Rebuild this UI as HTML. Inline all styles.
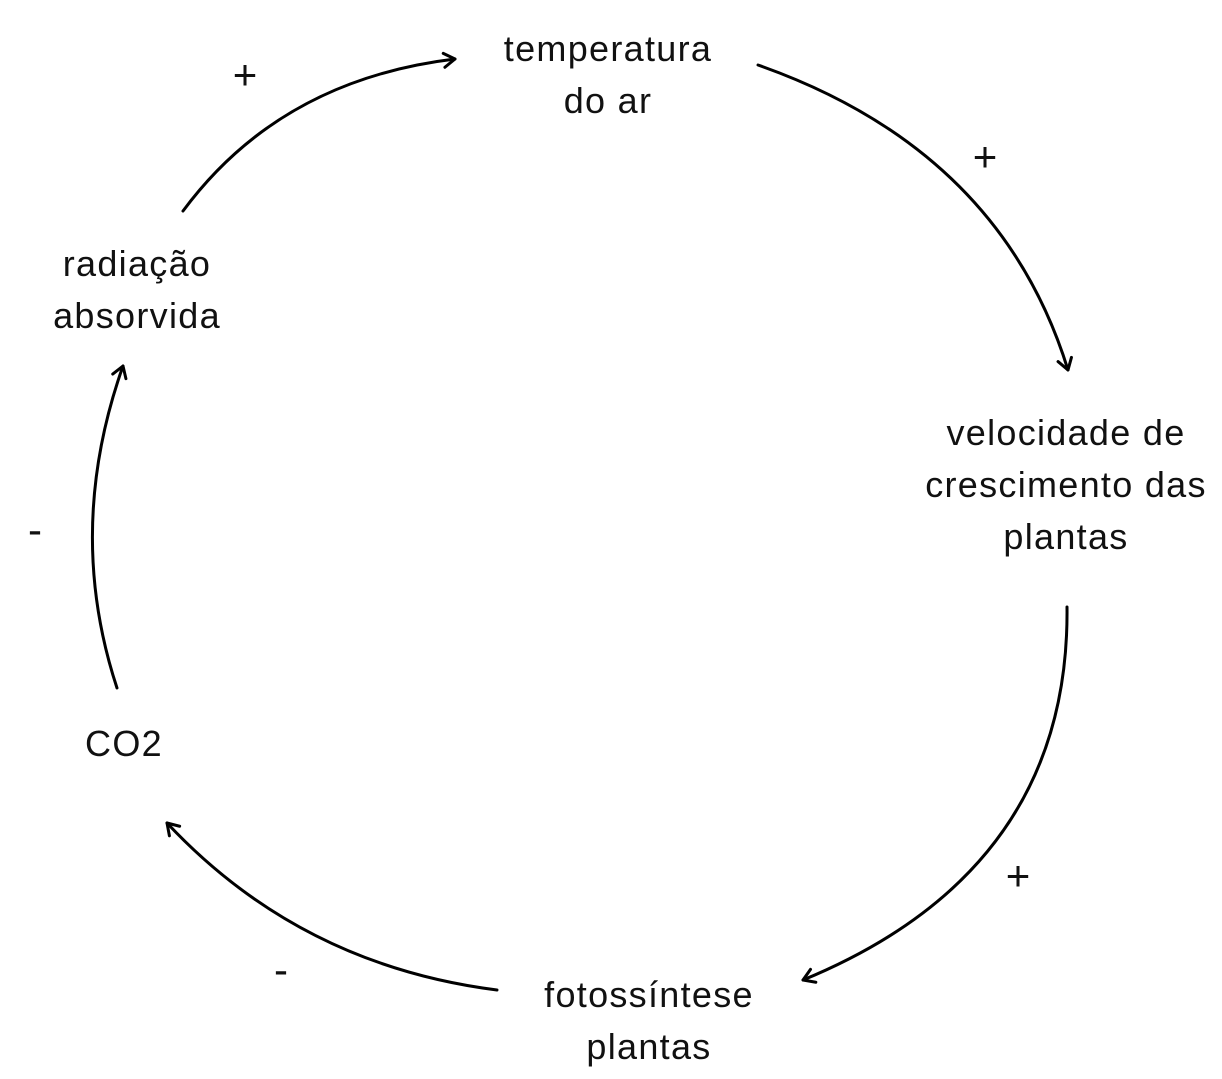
<!DOCTYPE html>
<html><head><meta charset="utf-8"><style>
html,body{margin:0;padding:0;background:#fff;}
svg{display:block;}
text{font-family:"Liberation Sans",sans-serif;font-size:36px;letter-spacing:1.3px;fill:#111;text-anchor:middle;}
.s{font-size:42px;letter-spacing:0;}
path.a{fill:none;stroke:#000;stroke-width:3;stroke-linecap:round;}
</style></head><body>
<svg width="1222" height="1079" viewBox="0 0 1222 1079">
<defs>
<marker id="ah" viewBox="0 0 20 20" refX="17" refY="10" markerWidth="20" markerHeight="20" markerUnits="userSpaceOnUse" orient="auto">
<path d="M6,3 L17,10 L6,17" fill="none" stroke="#000" stroke-width="3" stroke-linecap="round" stroke-linejoin="round"/>
</marker>
</defs>
<g><text x="608" y="61">temperatura</text><text x="608" y="113">do ar</text></g>
<g><text x="1066" y="445">velocidade de</text><text x="1066" y="497">crescimento das</text><text x="1066" y="549">plantas</text></g>
<g><text x="649" y="1007">fotossíntese</text><text x="649" y="1059">plantas</text></g>
<g><text x="124" y="756">CO2</text></g>
<g><text x="137" y="276">radiação</text><text x="137" y="328">absorvida</text></g>
<path class="a" d="M183,211 Q280,80 455,59" marker-end="url(#ah)"/>
<path class="a" d="M758,65 Q1000,150 1068,370" marker-end="url(#ah)"/>
<path class="a" d="M1067,607 Q1070,870 803,980" marker-end="url(#ah)"/>
<path class="a" d="M497,990 Q300,965 167,823" marker-end="url(#ah)"/>
<path class="a" d="M117,688 Q65,530 123,366" marker-end="url(#ah)"/>
<text class="s" x="245" y="89">+</text>
<text class="s" x="985" y="171">+</text>
<text class="s" x="1018" y="890">+</text>
<text class="s" x="281" y="984">-</text>
<text class="s" x="35" y="544">-</text>
</svg>
</body></html>
